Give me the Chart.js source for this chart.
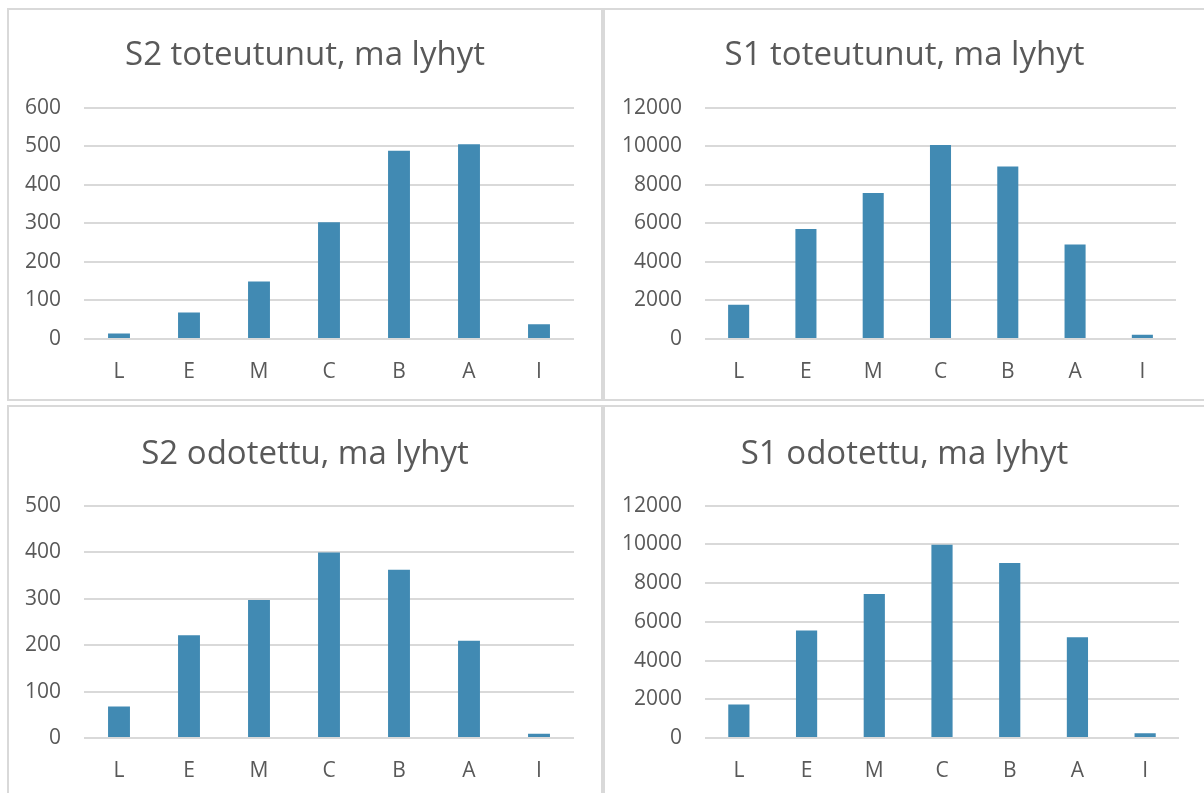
<!DOCTYPE html>
<html>
<head>
<meta charset="utf-8">
<script src="https://cdn.jsdelivr.net/npm/chart.js@4/dist/chart.umd.min.js"></script>
<style>
  html, body { margin: 0; padding: 0; background: #fff; overflow: hidden; }
  body { width: 1204px; height: 793px; position: relative; }
  .box { position: absolute; box-sizing: border-box; border: 2px solid #d9d9d9; background: #fff; }
  .box canvas { position: absolute; left: 0; top: 0; }
</style>
</head>
<body>
<div class="box" style="left:7px;top:8px;width:596px;height:393px;"><canvas id="c1"></canvas></div>
<div class="box" style="left:603px;top:8px;width:640px;height:393px;"><canvas id="c2"></canvas></div>
<div class="box" style="left:7px;top:405px;width:596px;height:420px;"><canvas id="c3"></canvas></div>
<div class="box" style="left:603px;top:405px;width:640px;height:420px;"><canvas id="c4"></canvas></div>
<script>
// luokat
const categories = ["L", "E", "M", "C", "B", "A", "I"];

// arvot kuvasta luettuna
const s2Toteutunut = [14, 69, 149, 303, 488, 505, 38];
const s1Toteutunut = [1770, 5700, 7570, 10060, 8950, 4900, 225];
const s2Odotettu = [68, 221, 297, 399, 362, 209, 9];
const s1Odotettu = [1730, 5550, 7430, 9980, 9040, 5200, 240];

const titles = [
    "S2 toteutunut, ma lyhyt",
    "S1 toteutunut, ma lyhyt",
    "S2 odotettu, ma lyhyt",
    "S1 odotettu, ma lyhyt"
];
const axisMax = [600, 12000, 500, 12000];
const axisStep = [100, 2000, 100, 2000];

const barColor = "#418AB3";
const textColor = "#595959";
const gridColor = "#d9d9d9";
const fontFamily = "'Open Sans', 'Liberation Sans', sans-serif";

function makeChart(id, title, values, max, step, g) {
    const canvas = document.getElementById(id);
    canvas.width = g.w;
    canvas.height = g.h;
    canvas.style.width = g.w + "px";
    canvas.style.height = g.h + "px";
    const ctx = canvas.getContext("2d");
    return new Chart(ctx, {
        type: "bar",
        data: {
            labels: categories,
            datasets: [
                {
                    data: values,
                    backgroundColor: barColor,
                    borderWidth: 0,
                    categoryPercentage: 1,
                    barPercentage: 0.313,
                },
            ],
        },
        options: {
            responsive: false,
            animation: false,
            devicePixelRatio: 1,
            layout: { padding: 0 },
            plugins: {
                legend: { display: false },
                tooltip: { enabled: false },
                title: {
                    display: true,
                    text: title,
                    color: textColor,
                    font: { family: fontFamily, size: 33, weight: "normal", lineHeight: 1.2 },
                    padding: { top: g.titleTop, bottom: g.titleBottom },
                },
            },
            scales: {
                x: {
                    grid: { display: false, drawTicks: false },
                    border: { display: false },
                    ticks: {
                        color: textColor,
                        font: { family: fontFamily, size: 21 },
                        padding: g.xPad,
                        maxRotation: 0,
                    },
                    afterFit: function (scale) {
                        scale.height = g.xHeight;
                    },
                },
                y: {
                    min: 0,
                    max: max,
                    grid: { color: gridColor, lineWidth: 2, drawTicks: false },
                    border: { display: false },
                    ticks: {
                        stepSize: step,
                        color: textColor,
                        font: { family: fontFamily, size: 21 },
                        padding: 23,
                        callback: function (value) {
                            return String(value);
                        },
                    },
                    afterFit: function (scale) {
                        scale.width = g.left;
                    },
                },
                // tyhjä akseli oikealle, jotta piirtoalue loppuu oikeaan kohtaan
                yRight: {
                    position: "right",
                    grid: { display: false, drawTicks: false },
                    border: { display: false },
                    ticks: { display: false },
                    afterFit: function (scale) {
                        scale.width = g.right;
                    },
                },
            },
        },
    });
}

const topGeom = { w: 592, h: 389, left: 75, right: 27, titleTop: 26, titleBottom: 32, xHeight: 60, xPad: 20 };
const topGeomR = { w: 599, h: 389, left: 100, right: 28, titleTop: 26, titleBottom: 32, xHeight: 60, xPad: 20 };
const botGeom = { w: 592, h: 386, left: 75, right: 27, titleTop: 28, titleBottom: 31, xHeight: 55, xPad: 20 };
const botGeomR = { w: 599, h: 386, left: 100, right: 25, titleTop: 28, titleBottom: 31, xHeight: 55, xPad: 20 };

makeChart("c1", titles[0], s2Toteutunut, axisMax[0], axisStep[0], topGeom);
makeChart("c2", titles[1], s1Toteutunut, axisMax[1], axisStep[1], topGeomR);
makeChart("c3", titles[2], s2Odotettu, axisMax[2], axisStep[2], botGeom);
makeChart("c4", titles[3], s1Odotettu, axisMax[3], axisStep[3], botGeomR);
</script>
</body>
</html>
